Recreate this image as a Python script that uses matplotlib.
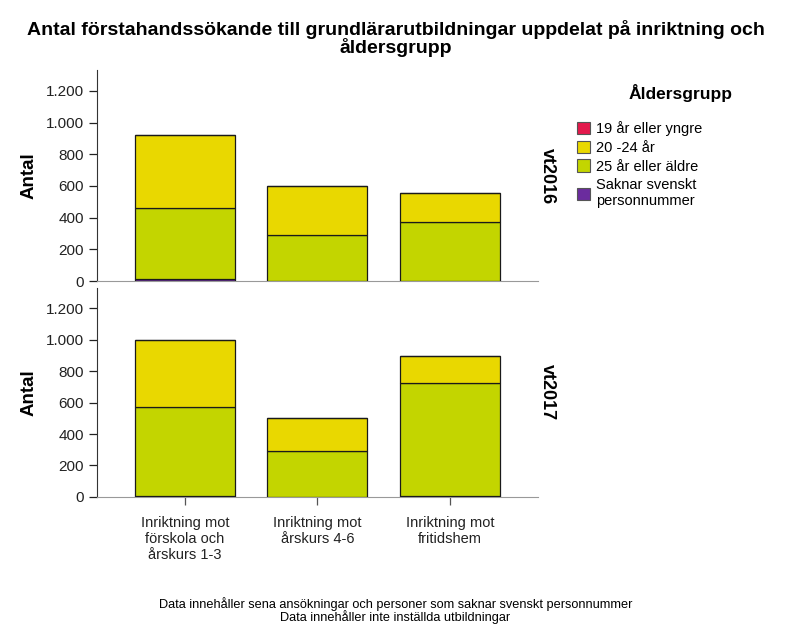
import numpy as np
import matplotlib.pyplot as plt
from matplotlib.ticker import FuncFormatter
from matplotlib.patches import Patch

plt.rcParams['font.family'] = ['Liberation Sans', 'DejaVu Sans']

# kategorier och värden
inriktningar = ["Inriktning mot\nförskola och\nårskurs 1-3",
                "Inriktning mot\nårskurs 4-6",
                "Inriktning mot\nfritidshem"]
terminer = ["vt2016", "vt2017"]
grupper = ["19 år eller yngre", "20 -24 år", "25 år eller äldre",
           "Saknar svenskt\npersonnummer"]
farger = ["#e3194c", "#e9d800", "#c3d500", "#6b2c9e"]

# värden per termin, en lista per åldersgrupp (ordning = inriktningar)
yngre_19 = {"vt2016": [0, 0, 0], "vt2017": [0, 0, 0]}
ar_20_24 = {"vt2016": [460, 309, 183], "vt2017": [425, 214, 171]}
ar_25 = {"vt2016": [452, 289, 370], "vt2017": [568, 289, 723]}
saknar = {"vt2016": [10, 2, 3], "vt2017": [7, 2, 3]}

fig = plt.figure(figsize=(7.91, 6.33), dpi=100)
ax1 = fig.add_axes([0.1226, 0.556, 0.5575, 0.333])
ax2 = fig.add_axes([0.1226, 0.215, 0.5575, 0.330])

x = np.arange(len(inriktningar))
fmt = FuncFormatter(lambda v, p: f"{int(v):,}".replace(",", "."))

for ax, t in zip([ax1, ax2], terminer):
    # staplas nedifrån: saknar, 25+, 20-24, 19
    lager = [(saknar[t], farger[3]), (ar_25[t], farger[2]),
             (ar_20_24[t], farger[1]), (yngre_19[t], farger[0])]
    bottom = np.zeros(len(x))
    for vals, c in lager:
        vals = np.array(vals, dtype=float)
        ax.bar(x, vals, bottom=bottom, width=0.755, color=c,
               edgecolor="#1a1a1a", linewidth=0.9, zorder=3)
        bottom += vals
    ax.set_xlim(-0.665, 2.665)
    ax.set_ylim(0, 1330)
    ax.set_yticks([0, 200, 400, 600, 800, 1000, 1200])
    ax.yaxis.set_major_formatter(fmt)
    ax.tick_params(axis="y", labelsize=11, colors="#222222", length=6, width=0.9)
    for s in ["top", "right"]:
        ax.spines[s].set_visible(False)
    ax.spines["left"].set_color("#333333")
    ax.spines["bottom"].set_color("#999999")
    ax.set_ylabel("Antal", fontsize=13.5, fontweight="bold", labelpad=6)
    ax.text(1.022, 0.5, t, transform=ax.transAxes, rotation=-90,
            fontsize=13, fontweight="bold", ha="center", va="center")

ax1.set_xticks([])
ax2.set_xticks(x)
ax2.set_xticklabels(inriktningar, fontsize=10.5, color="#222222", linespacing=1.15)
ax2.tick_params(axis="x", length=6, width=0.9, pad=8, colors="#555555", labelcolor="#222222")

fig.suptitle("Antal förstahandssökande till grundlärarutbildningar uppdelat på inriktning och\nåldersgrupp",
             x=0.5, y=0.968, fontsize=14, fontweight="bold", linespacing=0.92)

handles = [Patch(facecolor=c, edgecolor="#555555", linewidth=0.8) for c in farger]
fig.text(0.861, 0.853, "Åldersgrupp", fontsize=12.5, fontweight="bold",
         ha="center", va="center")
fig.legend(handles, grupper, loc="upper left", bbox_to_anchor=(0.722, 0.818),
           frameon=False, fontsize=10.5, handlelength=0.9, handleheight=0.9,
           handletextpad=0.4, labelspacing=0.32, borderaxespad=0)

fig.text(0.5, 0.036, "Data innehåller sena ansökningar och personer som saknar svenskt personnummer\nData innehåller inte inställda utbildningar",
         ha="center", va="center", fontsize=9.2, linespacing=0.9)

fig.savefig("out.png", dpi=100)
